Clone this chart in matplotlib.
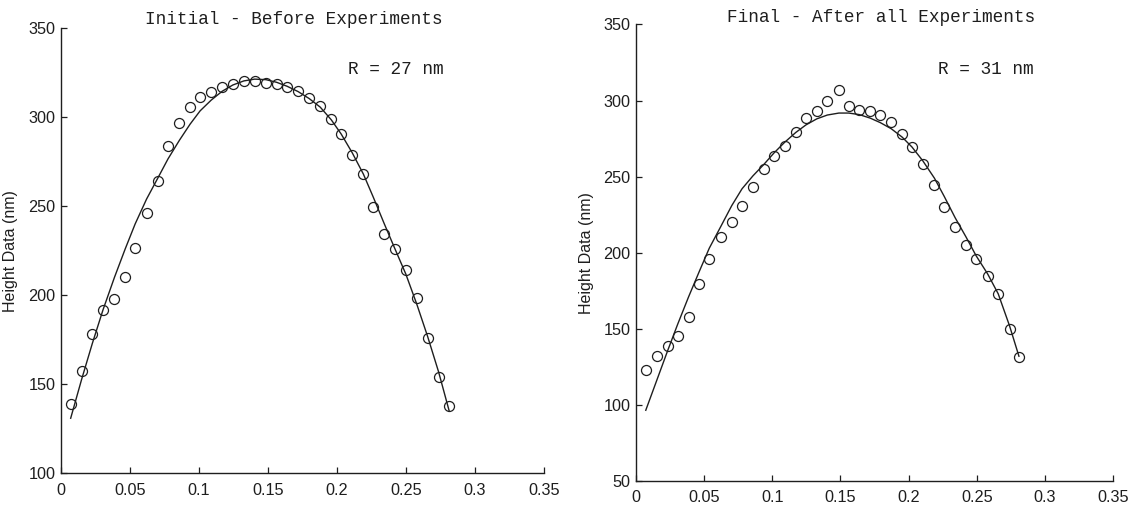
import numpy as np
import matplotlib
matplotlib.use('Agg')
import matplotlib.pyplot as plt

# --- Data --- #

# Initial - Before Experiments
x_init = [0.0070, 0.0150, 0.0227, 0.0305, 0.0387, 0.0465, 0.0537, 0.0620, 0.0703,
          0.0775, 0.0858, 0.0935, 0.1008, 0.1088, 0.1168, 0.1245, 0.1325, 0.1403,
          0.1485, 0.1563, 0.1638, 0.1718, 0.1798, 0.1878, 0.1958, 0.2030, 0.2110,
          0.2191, 0.2263, 0.2343, 0.2420, 0.2498, 0.2578, 0.2656, 0.2736, 0.2813]
h_init = [139.0, 157.5, 178.3, 191.5, 198.0, 210.4, 226.8, 246.0, 264.3,
          283.7, 296.4, 305.5, 311.0, 314.0, 316.6, 318.8, 320.3, 320.5,
          319.4, 318.4, 316.6, 314.7, 310.7, 306.4, 298.8, 290.6, 278.7,
          268.3, 249.8, 234.6, 225.8, 214.1, 198.7, 176.1, 154.2, 138.0]
fit_init = [131.0, 153.0, 173.0, 192.0, 210.0, 226.0, 240.0, 254.0, 266.0,
            276.5, 287.0, 296.0, 303.5, 309.5, 314.5, 318.0, 320.3, 321.3,
            321.0, 319.5, 317.3, 314.3, 310.4, 305.6, 298.5, 290.5, 280.0,
            268.0, 255.0, 240.0, 226.0, 212.0, 195.0, 177.0, 157.0, 135.0]

# Final - After all Experiments
x_final = [0.0072, 0.0152, 0.0234, 0.0306, 0.0386, 0.0466, 0.0538, 0.0621, 0.0703,
           0.0778, 0.0858, 0.0938, 0.1012, 0.1090, 0.1172, 0.1247, 0.1327, 0.1404,
           0.1489, 0.1561, 0.1638, 0.1718, 0.1793, 0.1873, 0.1953, 0.2025, 0.2104,
           0.2190, 0.2262, 0.2342, 0.2424, 0.2496, 0.2581, 0.2658, 0.2741, 0.2810]
h_final = [122.8, 132.2, 138.4, 145.4, 157.5, 179.4, 195.8, 210.5, 220.4,
           230.9, 243.0, 255.0, 263.8, 270.0, 279.2, 288.4, 293.4, 300.0,
           307.0, 296.3, 293.9, 293.4, 290.6, 286.2, 278.1, 269.3, 258.3,
           244.7, 229.8, 216.7, 205.3, 195.8, 184.4, 173.2, 149.8, 131.6]
fit_final = [96.5, 116.0, 136.0, 153.0, 171.0, 188.0, 203.0, 217.0, 231.0,
             242.0, 250.5, 258.0, 265.5, 272.5, 279.0, 284.0, 288.0, 290.5,
             291.8, 291.8, 290.8, 288.5, 285.5, 281.5, 276.0, 269.5, 260.5,
             249.0, 237.0, 223.0, 210.0, 198.0, 186.0, 173.0, 152.0, 132.0]

x_ticks = [0, 0.05, 0.1, 0.15, 0.2, 0.25, 0.3, 0.35]
x_ticklabels = ['0', '0.05', '0.1', '0.15', '0.2', '0.25', '0.3', '0.35']
y_ticks_init = [100, 150, 200, 250, 300, 350]
y_ticks_final = [50, 100, 150, 200, 250, 300, 350]

# --- Fonts --- #
tick_font = ['Liberation Sans Narrow', 'Liberation Sans', 'DejaVu Sans']
label_font = ['Liberation Sans', 'DejaVu Sans']
mono_font = ['Liberation Mono', 'DejaVu Sans Mono']

ink = '#1e1e1e'

fig = plt.figure(figsize=(11.32, 5.05), dpi=100)
ax1 = fig.add_axes([0.0539, 0.0624, 0.4267, 0.8822])
ax2 = fig.add_axes([0.5618, 0.0475, 0.4214, 0.9040])


def draw_panel(ax, x, h, fit, yticks, title, title_x, title_y, rtext, rx, ry):
    # fitted curve and measured points
    ax.plot(x, fit, color=ink, linewidth=1.0)
    ax.plot(x, h, linestyle='none', marker='o', markersize=7.2,
            markerfacecolor='none', markeredgecolor=ink, markeredgewidth=0.9)

    ax.set_xlim(0, 0.35)
    ax.set_ylim(yticks[0], yticks[-1])
    ax.set_xticks(x_ticks)
    ax.set_xticklabels(x_ticklabels)
    ax.set_yticks(yticks)
    ax.set_yticklabels([str(v) for v in yticks])

    for s in ['top', 'right']:
        ax.spines[s].set_visible(False)
    for s in ['left', 'bottom']:
        ax.spines[s].set_color(ink)
        ax.spines[s].set_linewidth(1.0)

    ax.tick_params(direction='in', length=4, width=0.9, color=ink)
    ax.tick_params(axis='x', pad=6.5)
    ax.tick_params(axis='y', pad=4)
    for lab in ax.get_xticklabels() + ax.get_yticklabels():
        lab.set_family(tick_font)
        lab.set_fontsize(11.7)
        lab.set_color(ink)

    ax.set_ylabel('Height Data (nm)', family=label_font, fontsize=11.5, color=ink)

    ax.text(title_x, title_y, title, transform=ax.transAxes, ha='center',
            va='baseline', family=mono_font, fontsize=12.8, color=ink)
    ax.text(rx, ry, rtext, ha='left', va='baseline', family=mono_font,
            fontsize=12.8, color=ink)


draw_panel(ax1, x_init, h_init, fit_init, y_ticks_init,
           'Initial - Before Experiments', 0.482, 1.009, 'R = 27 nm', 0.208, 324.2)
draw_panel(ax2, x_final, h_final, fit_final, y_ticks_final,
           'Final - After all Experiments', 0.513, 1.005, 'R = 31 nm', 0.2217, 317.4)

ax1.yaxis.set_label_coords(-0.089, 0.5)
ax2.yaxis.set_label_coords(-0.088, 0.5)

fig.savefig('out.png', dpi=100)
